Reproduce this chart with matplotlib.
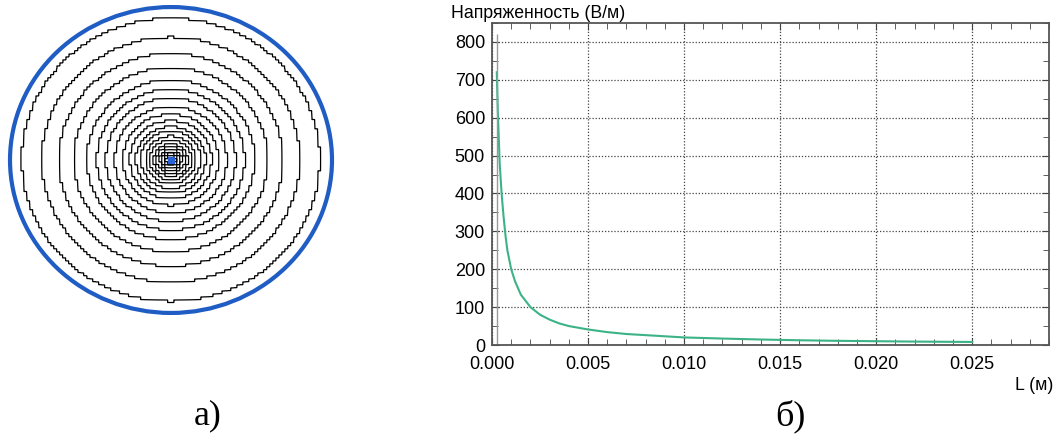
import numpy as np
import matplotlib.pyplot as plt
from matplotlib.patches import Ellipse
from matplotlib.ticker import MultipleLocator

# --- данные: правый график (напряженность поля от расстояния) ---
L_m = [0.00025, 0.0003, 0.0004, 0.0005, 0.0006, 0.0007, 0.0008, 0.001,
       0.0012, 0.0015, 0.002, 0.0025, 0.003, 0.0035, 0.004, 0.005,
       0.006, 0.007, 0.008, 0.009, 0.010, 0.012, 0.014, 0.016,
       0.018, 0.020, 0.022, 0.025]
E_vm = [720, 620, 480, 400, 340, 290, 250, 200,
        168, 133, 100, 80, 67, 57, 50, 41,
        34, 29, 26, 23, 20, 17, 14.5, 12.5,
        11, 10, 9, 8]
E_boundary = 820

# --- данные: левый рисунок (эквипотенциальные линии, радиусы колец) ---
ring_radii = [149, 129, 112, 97, 84, 74, 65, 56, 48, 41, 35, 30, 25, 21,
              17, 14, 11, 9, 7, 5]
outer_radius = 161

W, H = 1054, 434
fig = plt.figure(figsize=(W / 100, H / 100), dpi=100)

# левый рисунок в пиксельных координатах
ax0 = fig.add_axes([0, 0, 1, 1])
ax0.set_xlim(0, W)
ax0.set_ylim(H, 0)
ax0.axis('off')

cx, cy, squash, cell = 171, 160, 0.95, 3
xs = np.arange(0, 345, 0.5)
ys = np.arange(0, 330, 0.5)
X, Y = np.meshgrid(xs, ys)
Xq = (np.floor(X / cell) + 0.5) * cell
Yq = (np.floor(Y / cell) + 0.5) * cell
R = np.hypot(Xq - cx, (Yq - cy) / squash)
ax0.contour(X, Y, R, levels=sorted(ring_radii), colors='black', linewidths=0.9)
ax0.add_patch(Ellipse((cx, cy), 2 * outer_radius, 2 * outer_radius * squash,
                      fill=False, edgecolor='#1f5cc4', lw=3))
ax0.plot([cx], [cy], marker='s', ms=4, color='#2a62d8')

ax0.text(208, 416, 'а)', fontsize=26, family='Liberation Serif',
         ha='center', va='center')
ax0.text(790, 416, 'б)', fontsize=26, family='Liberation Serif',
         ha='center', va='center')

# правый график
ax = fig.add_axes([492 / W, (H - 345) / H, 557 / W, 322 / H])
ax.plot(L_m, E_vm, color='#3cb386', lw=1.5)
ax.vlines(L_m[0], 0, E_boundary, color='#999999', lw=1)
ax.set_xlim(0, 0.029)
ax.set_ylim(0, 850)
ax.xaxis.set_major_locator(MultipleLocator(0.005))
ax.xaxis.set_minor_locator(MultipleLocator(0.001))
ax.yaxis.set_major_locator(MultipleLocator(100))
ax.yaxis.set_minor_locator(MultipleLocator(50))
ax.set_xticks(np.arange(0, 0.0251, 0.005))
ax.xaxis.set_major_formatter(plt.FormatStrFormatter('%.3f'))
ax.tick_params(which='both', direction='in', top=True, right=True,
               color='#444444', labelsize=13)
ax.tick_params(which='major', length=5)
ax.tick_params(which='minor', length=4)
ax.tick_params(axis='x', pad=8)
ax.tick_params(axis='y', pad=5)
for lbl in ax.get_xticklabels() + ax.get_yticklabels():
    lbl.set_family('Liberation Sans')
for s in ax.spines.values():
    s.set_color('#555555')
    s.set_linewidth(1.3)
ax.grid(True, which='major', color='#444444', linestyle=(0, (1, 1.5)), lw=0.9)

fig.text(451 / W, 1 - 14 / H, 'Напряженность (В/м)', fontsize=12.7,
         family='Liberation Sans', ha='left', va='center')
fig.text(1015 / W, 1 - 385 / H, 'L (м)', fontsize=12.7,
         family='Liberation Sans', ha='left', va='center')

fig.savefig('out.png', dpi=100)
